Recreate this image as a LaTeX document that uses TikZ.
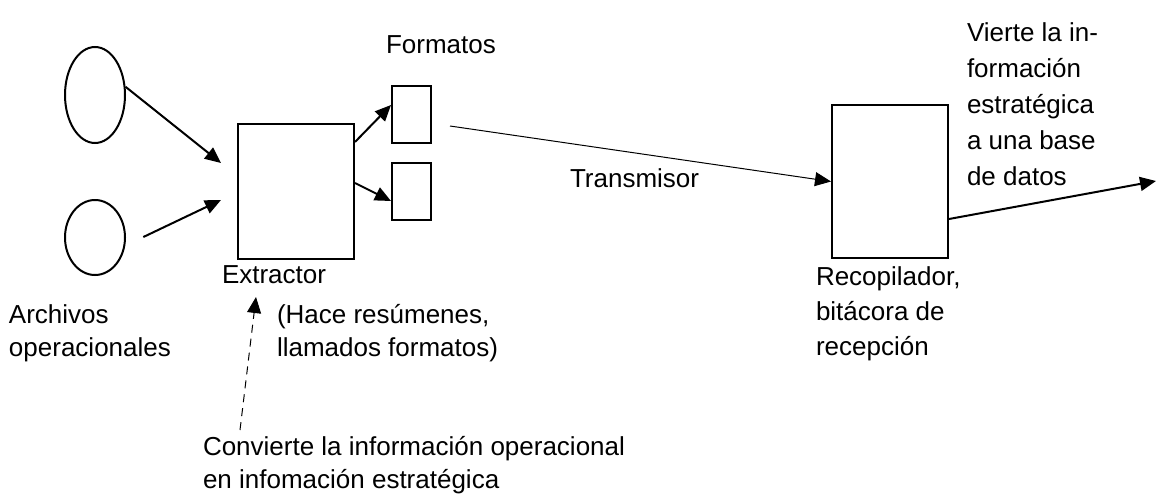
\documentclass[tikz,border=0pt]{standalone}
\usepackage{fontspec}
\setmainfont{Liberation Sans}
\usetikzlibrary{%
  arrows.meta,%
  shapes,% wg. ellipse
  positioning,%
  calc
}

\begin{document}
\begin{tikzpicture}
  [
  x=0.5pt, y=-0.5pt,
  line width=1pt,
  draw=black, >={Triangle[length=8pt,width=7pt]},
  font=\fontsize{13}{18}\selectfont,
  filenode/.style={ellipse, inner sep = 0pt, draw=black},
  procnode/.style={rectangle, inner sep = 0pt, draw=black},
  txt/.style={anchor=base west, inner sep = 0pt, align=left},
  ]
  \useasboundingbox (0,0) rectangle (1156,498);

  % archivos
  \node[filenode, minimum width=30pt, minimum height=48pt] (arch1) at (95,95) {};
  \node[filenode, minimum width=30pt, minimum height=37.5pt] (arch2) at (95,237.5) {};
  \node[txt, font=\fontsize{13}{16.5}\selectfont] (archtxt) at (8,356) {Archivos\\operacionales};

  % extractor y formatos
  \node[procnode, minimum width=58pt, minimum height=67.5pt] (extr) at (296,191.5) {};
  \node[procnode, minimum width=19.5pt, minimum height=28.5pt] (form1) at (411.5,114.5) {};
  \node[procnode, minimum width=19.5pt, minimum height=28.5pt] (form2) at (411.5,191.5) {};
  \node[txt] (formtxt) at (385,53) {Formatos};
  \node[txt] (extrtxt) at (221,283) {Extractor};
  \node[txt, font=\fontsize{13}{16.5}\selectfont] (hacetxt) at (276,356) {(Hace resúmenes,\\llamados formatos)};

  % recopilador
  \node[procnode, minimum width=58pt, minimum height=76.5pt] (recop) at (890,181.5) {};
  \node[txt, font=\fontsize{13}{17.5}\selectfont] (recoptxt) at (815,355) {Recopilador,\\bitácora de\\recepción};
  \node[txt] (viertetxt) at (966,185) {Vierte la in-\\formación\\estratégica\\a una base\\de datos};
  \node[txt] (transtxt) at (569,187) {Transmisor};
  \node[txt, font=\fontsize{13}{16.5}\selectfont] (convtxt) at (202,488) {Convierte la información operacional\\en infomación estratégica};

  \coordinate (in1) at (221,163);
  \coordinate (in2) at (221,200);
  \coordinate (tx) at (450,126);
  \coordinate (out) at (1156,181);
  \coordinate (conv) at (240,430);
  \coordinate (extrin) at (256,297);

  \draw[->] (arch1.15) -- (in1);
  \draw[->, shorten <=10pt] (arch2.-15) -- (in2);
  \draw[->] ([yshift=-9.5pt]extr.north east) -- ([yshift=4.75pt]form1.west);
  \draw[->] ([yshift=4.25pt]extr.east) -- ([yshift=-4.75pt]form2.west);
  \draw[->, line width=0.5pt] (tx) -- (recop.west);
  \draw[->] ([yshift=-18.75pt]recop.east) -- (out);
  \draw[->, line width=0.5pt, dash pattern=on 4pt off 3pt] (conv) -- (extrin);
\end{tikzpicture}
\end{document}
